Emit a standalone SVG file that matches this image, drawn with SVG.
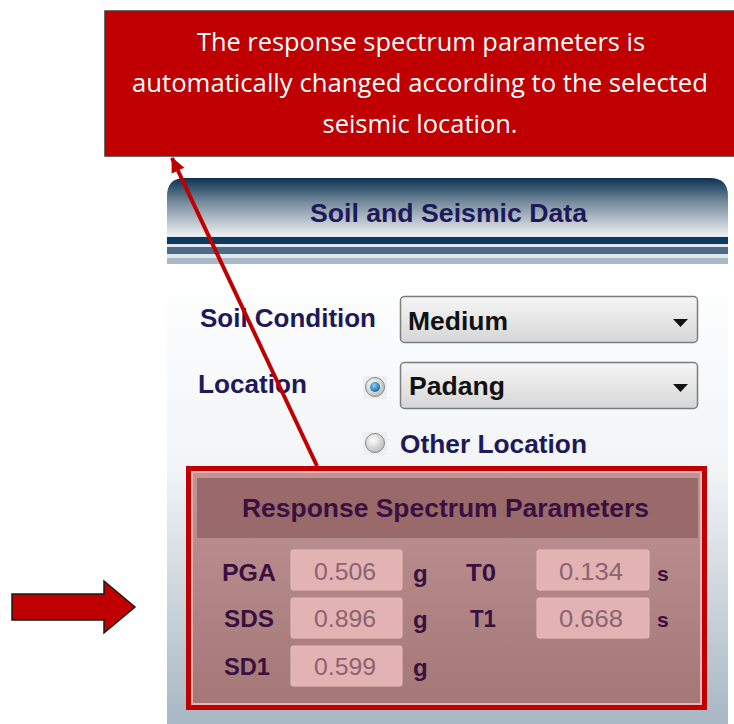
<svg xmlns="http://www.w3.org/2000/svg" width="734" height="724" viewBox="0 0 734 724">
<style>
.lbl{font-family:"Liberation Sans",Arial,sans-serif;font-weight:bold;fill:#1e1a5a;font-size:25px}
.rsl{font-family:"Liberation Sans",Arial,sans-serif;font-weight:bold;fill:#3a1040;font-size:24px}
.val{font-family:"Liberation Sans",Arial,sans-serif;fill:#8a6470;font-size:24px;text-anchor:middle}
.dd{font-family:"Liberation Sans",Arial,sans-serif;font-weight:bold;fill:#111;font-size:25px}
.cal{font-family:"Open Sans","Liberation Sans",sans-serif;fill:#ffffff;font-size:25px;text-anchor:middle}
.vbox{fill:#e3b2b2;stroke:#ebbcbc;stroke-width:1}
.ddbox{fill:url(#ddg);stroke:#7d7d7d;stroke-width:1.5}
</style>
<defs>
<linearGradient id="hdr" x1="0" y1="0" x2="0" y2="1">
<stop offset="0" stop-color="#0b3352"/>
<stop offset="0.3" stop-color="#7a8fa0"/>
<stop offset="0.75" stop-color="#ffffff"/>
<stop offset="1" stop-color="#ffffff"/>
</linearGradient>
<linearGradient id="body" x1="0" y1="0" x2="0" y2="1">
<stop offset="0" stop-color="#ffffff"/>
<stop offset="0.45" stop-color="#f2f4f6"/>
<stop offset="1" stop-color="#a7b7c3"/>
</linearGradient>
<linearGradient id="ddg" x1="0" y1="0" x2="0" y2="1">
<stop offset="0" stop-color="#f6f6f6"/>
<stop offset="1" stop-color="#d6d6d6"/>
</linearGradient>
<linearGradient id="rsb" x1="0" y1="0" x2="0" y2="1">
<stop offset="0" stop-color="#c09494"/>
<stop offset="1" stop-color="#a57878"/>
</linearGradient>
<radialGradient id="rad" cx="0.4" cy="0.35" r="0.7">
<stop offset="0" stop-color="#ffffff"/>
<stop offset="1" stop-color="#b8b8b8"/>
</radialGradient>
<radialGradient id="dot" cx="0.4" cy="0.35" r="0.7">
<stop offset="0" stop-color="#8fd0f5"/>
<stop offset="1" stop-color="#10609a"/>
</radialGradient>
<marker id="ah" markerUnits="userSpaceOnUse" markerWidth="16" markerHeight="16" refX="14" refY="8" orient="auto">
<path d="M0,1 L15,8 L0,15 Z" fill="#c00000"/>
</marker>
</defs>

<g id="callout">
<rect x="105" y="11" width="640" height="145" fill="#c00000" stroke="#3a3a3a" stroke-width="1.5"/>
<text class="cal" x="421" y="51" textLength="448" lengthAdjust="spacingAndGlyphs">The response spectrum parameters is</text>
<text class="cal" x="420" y="92" textLength="576" lengthAdjust="spacingAndGlyphs">automatically changed according to the selected</text>
<text class="cal" x="420" y="133" textLength="195" lengthAdjust="spacingAndGlyphs">seismic location.</text>
</g>

<g id="panel">
<rect x="167" y="262" width="561" height="462" fill="url(#body)"/>
<path d="M167,262 V196 Q167,178 185,178 H710 Q728,178 728,196 V262 Z" fill="url(#hdr)"/>
<rect x="167" y="236" width="561" height="28" fill="#dfe7ee"/>
<rect x="167" y="237" width="561" height="7" fill="#0d3a5c"/>
<rect x="167" y="247" width="561" height="7" fill="#4b6b86"/>
<rect x="167" y="258" width="561" height="6" fill="#a9b9c5"/>
<text class="lbl" x="310" y="222" textLength="277" lengthAdjust="spacingAndGlyphs">Soil and Seismic Data</text>
</g>

<g id="soil-condition">
<text class="lbl" x="200" y="327" textLength="176" lengthAdjust="spacingAndGlyphs">Soil Condition</text>
<rect class="ddbox" x="400.5" y="296.5" width="297" height="46" rx="4"/>
<text class="dd" x="408" y="330" textLength="100" lengthAdjust="spacingAndGlyphs">Medium</text>
<path d="M673,319 H688 L680.5,327 Z" fill="#111"/>
</g>

<g id="location">
<text class="lbl" x="198" y="393" textLength="109" lengthAdjust="spacingAndGlyphs">Location</text>
<rect x="363" y="376" width="24" height="23" fill="#eeeeee"/>
<circle cx="375" cy="387" r="9.5" fill="url(#rad)" stroke="#8a8a8a" stroke-width="1"/>
<circle cx="375" cy="387" r="5" fill="url(#dot)"/>
<rect class="ddbox" x="400.5" y="362.5" width="297" height="46" rx="4"/>
<text class="dd" x="409" y="395" textLength="96" lengthAdjust="spacingAndGlyphs">Padang</text>
<path d="M673,384 H688 L680.5,392 Z" fill="#111"/>
</g>

<g id="other-location">
<rect x="363" y="432" width="24" height="23" fill="#eeeeee"/>
<circle cx="375" cy="443" r="9.5" fill="url(#rad)" stroke="#8a8a8a" stroke-width="1"/>
<text class="lbl" x="400" y="453" textLength="187" lengthAdjust="spacingAndGlyphs">Other Location</text>
</g>

<g id="response-spectrum">
<rect x="189" y="469" width="515" height="238" fill="#e6b6b6"/>
<rect x="193" y="473" width="507" height="230" fill="url(#rsb)"/>
<rect x="197" y="478" width="501" height="60" fill="#9a6a6a"/>
<text class="rsl" x="242" y="517" textLength="407" lengthAdjust="spacingAndGlyphs" style="font-size:25px">Response Spectrum Parameters</text>

<text class="rsl" x="222" y="581" textLength="54" lengthAdjust="spacingAndGlyphs">PGA</text>
<rect class="vbox" x="291" y="550" width="111" height="40" rx="2"/>
<text class="val" x="345" y="580" textLength="62" lengthAdjust="spacingAndGlyphs">0.506</text>
<text class="rsl" x="413" y="582">g</text>
<text class="rsl" x="466" y="581" textLength="30" lengthAdjust="spacingAndGlyphs">T0</text>
<rect class="vbox" x="537" y="550" width="112" height="40" rx="2"/>
<text class="val" x="591" y="580" textLength="64" lengthAdjust="spacingAndGlyphs">0.134</text>
<text class="rsl" x="657" y="581" style="font-size:21px">s</text>

<text class="rsl" x="224" y="627" textLength="50" lengthAdjust="spacingAndGlyphs">SDS</text>
<rect class="vbox" x="291" y="598" width="111" height="40" rx="2"/>
<text class="val" x="345" y="627" textLength="62" lengthAdjust="spacingAndGlyphs">0.896</text>
<text class="rsl" x="413" y="628">g</text>
<text class="rsl" x="470" y="627" textLength="26" lengthAdjust="spacingAndGlyphs">T1</text>
<rect class="vbox" x="537" y="598" width="112" height="40" rx="2"/>
<text class="val" x="591" y="627" textLength="64" lengthAdjust="spacingAndGlyphs">0.668</text>
<text class="rsl" x="657" y="627" style="font-size:21px">s</text>

<text class="rsl" x="224" y="675" textLength="46" lengthAdjust="spacingAndGlyphs">SD1</text>
<rect class="vbox" x="291" y="646" width="111" height="40" rx="2"/>
<text class="val" x="345" y="675" textLength="62" lengthAdjust="spacingAndGlyphs">0.599</text>
<text class="rsl" x="413" y="676">g</text>

<rect x="188.5" y="468.5" width="516" height="239" fill="none" stroke="#c00000" stroke-width="5"/>
</g>

<g id="connectors">
<line x1="317" y1="466" x2="172" y2="158" stroke="#c00000" stroke-width="4" marker-end="url(#ah)"/>
</g>

<g id="left-arrow">
<path d="M12,594 H104 V581 L135,607 L104,633 V620 H12 Z" fill="#c00000" stroke="#1a1a1a" stroke-width="1.5"/>
</g>
</svg>
